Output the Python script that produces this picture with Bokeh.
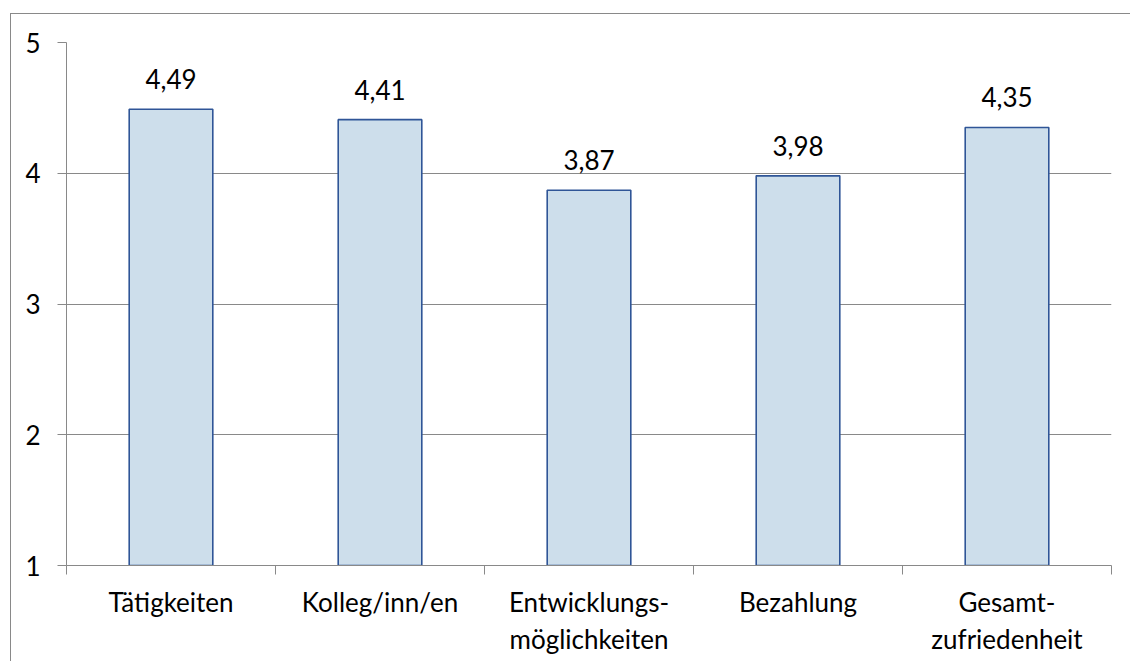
from bokeh.plotting import figure
from bokeh.models import Range1d, FixedTicker, ColumnDataSource, LinearAxis, InlineStyleSheet
from bokeh.core.properties import value
from bokeh.embed import file_html
from bokeh.resources import INLINE
import numpy as np

categories = ["Tätigkeiten", "Kolleg/inn/en", "Entwicklungs-\nmöglichkeiten", "Bezahlung", "Gesamt-\nzufriedenheit"]
values = [4.49, 4.41, 3.87, 3.98, 4.35]
y_ticks = [1, 2, 3, 4, 5]

labels = [f"{v:.2f}".replace(".", ",") for v in values]
xs = list(np.arange(len(categories)) + 0.5)
bounds = list(range(len(categories) + 1))
line1 = [c.split("\n")[0] for c in categories]
line2 = [c.split("\n")[1] if "\n" in c else "" for c in categories]

FONT = "Lato"
FS = "26px"
GRAY = "#898989"

p = figure(width=1130, height=661, output_backend="svg", toolbar_location=None,
           x_range=Range1d(0, len(categories)), y_range=Range1d(1, 5),
           min_border_left=66, min_border_right=19, min_border_top=42, min_border_bottom=96)
p.outline_line_color = None
p.background_fill_color = "white"
p.border_fill_color = "white"

src = ColumnDataSource(dict(x=xs, top=values, label=labels))
p.vbar(x="x", top="top", bottom=1, width=0.4, source=src,
       fill_color="#CDDEEB", line_color="#2F5597", line_width=1.6)
p.text(x="x", y="top", text="label", source=src, text_align="center",
       text_baseline="alphabetic", y_offset=-30, text_font=value(FONT),
       text_font_size=FS, text_color="black")

# x axis, first line of labels
xa = p.xaxis[0]
xa.ticker = FixedTicker(ticks=xs, minor_ticks=bounds)
xa.major_label_overrides = {x: c for x, c in zip(xs, line1)}
xa.major_tick_out = 0
xa.major_tick_in = 0
xa.minor_tick_out = 9
xa.minor_tick_in = 0
xa.minor_tick_line_color = GRAY
xa.axis_line_color = GRAY
xa.major_label_standoff = 11
xa.major_label_text_font = FONT
xa.major_label_text_font_size = FS
xa.major_label_text_color = "black"

# second line of labels
xb = LinearAxis(ticker=FixedTicker(ticks=xs, minor_ticks=[]))
xb.major_label_overrides = {x: c for x, c in zip(xs, line2)}
xb.axis_line_color = None
xb.major_tick_line_color = None
xb.minor_tick_line_color = None
xb.major_tick_out = 0
xb.major_tick_in = 0
xb.major_label_standoff = 2
xb.major_label_text_font = FONT
xb.major_label_text_font_size = FS
xb.major_label_text_color = "black"
p.add_layout(xb, "below")

# y axis
ya = p.yaxis[0]
ya.ticker = FixedTicker(ticks=y_ticks, minor_ticks=[])
ya.major_tick_out = 9
ya.major_tick_in = 0
ya.major_tick_line_color = GRAY
ya.axis_line_color = GRAY
ya.major_label_standoff = 17
ya.major_label_text_font = FONT
ya.major_label_text_font_size = FS
ya.major_label_text_color = "black"

p.xgrid.visible = False
p.ygrid.ticker = FixedTicker(ticks=y_ticks, minor_ticks=[])
p.ygrid.grid_line_color = GRAY
p.ygrid.grid_line_width = 1

# chart border (left and top edges visible in the window)
p.stylesheets = [InlineStyleSheet(css=(
    ":host::after { content: ''; position: absolute; left: 10px; top: 13px; right: 0; bottom: 0; "
    "border-left: 1px solid #898989; border-top: 1px solid #898989; pointer-events: none; }"
))]

open("out.html", "w").write(file_html(p, INLINE))
